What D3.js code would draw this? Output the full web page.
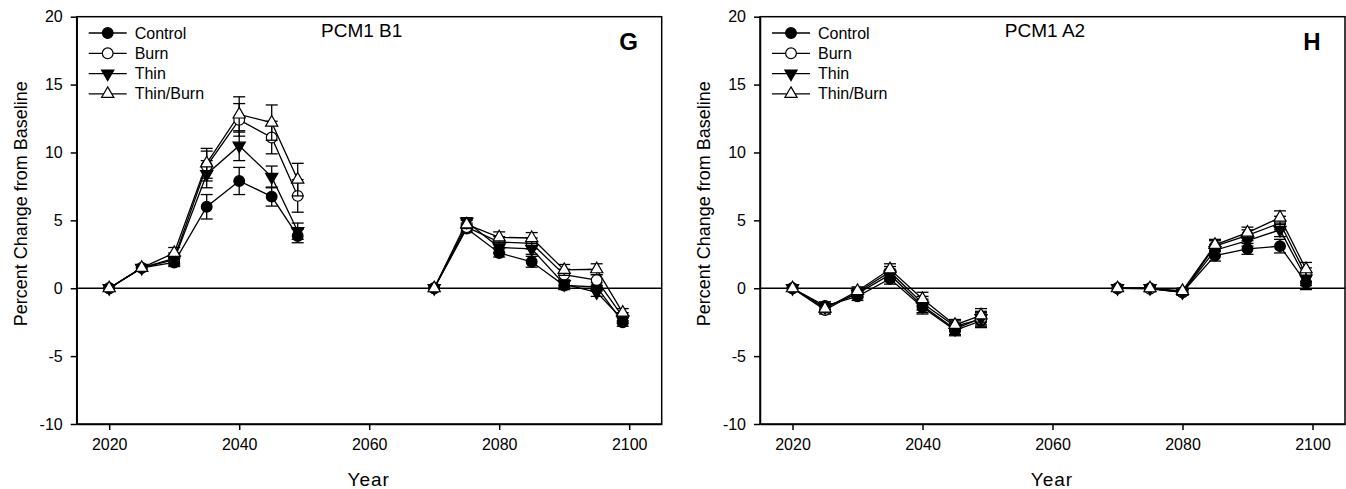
<!DOCTYPE html>
<html>
<head>
<meta charset="utf-8">
<script src="https://cdn.jsdelivr.net/npm/d3@7"></script>
<style>
  body { margin: 0; background: #fff; }
  svg { display: block; font-family: "Liberation Sans", Arial, sans-serif; }
  .axis path, .axis line { stroke: #000; stroke-width: 1.5; }
  .axis text { font-size: 16px; fill: #000; }
  .frame { fill: none; stroke: #000; stroke-width: 1.5; }
  .zeroLine { stroke: #000; stroke-width: 1.3; }
  .seriesLine { fill: none; stroke: #000; stroke-width: 1.3; }
  .errBar { stroke: #000; stroke-width: 1.3; }
</style>
</head>
<body>
<div id="chart"></div>
<script>
/***** Data */

const years = [2020, 2025, 2030, 2035, 2040, 2045, 2049, 2070, 2075, 2080, 2085, 2090, 2095, 2099];
const seriesNames = ['Control', 'Burn', 'Thin', 'Thin/Burn'];
const yTicks = [-10, -5, 0, 5, 10, 15, 20];
const xTicks = [2020, 2040, 2060, 2080, 2100];

// panel G: PCM1 B1
const b1Control  = [0, 1.5, 1.9, 6.0, 7.9, 6.75, 3.85, 0, 4.4, 2.6, 1.95, 0.2, 0.1, -2.5];
const b1Burn     = [0, 1.5, 2.2, 9.0, 12.4, 11.1, 6.8, 0, 4.5, 3.4, 3.3, 1.0, 0.6, -2.1];
const b1Thin     = [0, 1.5, 2.1, 8.4, 10.5, 8.2, 4.2, 0, 4.9, 3.0, 2.9, 0.3, -0.3, -2.3];
const b1ThinBurn = [0, 1.5, 2.6, 9.2, 12.8, 12.2, 8.0, 0, 4.7, 3.75, 3.7, 1.35, 1.4, -1.8];
const b1ControlErr  = [0, 0.2, 0.3, 0.9, 1.0, 0.7, 0.5, 0, 0.3, 0.3, 0.4, 0.3, 0.3, 0.3];
const b1BurnErr     = [0, 0.2, 0.4, 1.1, 1.2, 1.2, 1.2, 0, 0.3, 0.4, 0.4, 0.4, 0.4, 0.3];
const b1ThinErr     = [0, 0.2, 0.4, 1.0, 1.1, 0.8, 0.6, 0, 0.3, 0.4, 0.4, 0.3, 0.3, 0.3];
const b1ThinBurnErr = [0, 0.2, 0.4, 1.1, 1.3, 1.3, 1.2, 0, 0.3, 0.4, 0.4, 0.4, 0.4, 0.3];

// panel H: PCM1 A2
const a2Control  = [0, -1.3, -0.6, 0.7, -1.4, -3.1, -2.4, 0, 0, -0.3, 2.4, 2.9, 3.1, 0.4];
const a2Burn     = [0, -1.6, -0.3, 1.2, -1.1, -2.8, -2.3, 0, -0.05, -0.3, 3.1, 3.9, 4.8, 1.0];
const a2Thin     = [0, -1.4, -0.4, 1.0, -1.3, -3.0, -2.2, 0, 0, -0.3, 2.8, 3.5, 4.3, 0.7];
const a2ThinBurn = [0, -1.5, -0.2, 1.4, -0.8, -2.7, -2.0, 0, 0, -0.2, 3.2, 4.1, 5.2, 1.4];
const a2Err = [0, 0.3, 0.3, 0.4, 0.5, 0.4, 0.5, 0, 0.2, 0.2, 0.4, 0.4, 0.5, 0.5];

/***** Drawing */

const width = 1346;
const height = 489;

const svg = d3.select('#chart').append('svg')
    .attr('width', width)
    .attr('height', height);

// marker style per series
const markerStyles = [
    { shape: d3.symbolCircle, fill: '#000', rotate: 0, size: 90 },
    { shape: d3.symbolCircle, fill: '#fff', rotate: 0, size: 90 },
    { shape: d3.symbolTriangle, fill: '#000', rotate: 180, size: 65 },
    { shape: d3.symbolTriangle, fill: '#fff', rotate: 0, size: 65 }
];

function drawPanel (left, title, letter, series) {
    const top = 16.7;
    const plotWidth = 585;
    const plotHeight = 407.3;

    const g = svg.append('g').attr('transform', `translate(${left},${top})`);

    const x = d3.scaleLinear().domain([2015, 2105]).range([0, plotWidth]);
    const y = d3.scaleLinear().domain([-10, 20]).range([plotHeight, 0]);

    // frame (top and right edges)
    g.append('rect')
        .attr('class', 'frame')
        .attr('width', plotWidth)
        .attr('height', plotHeight);

    // plain hyphen for negatives, as in the original
    g.append('g')
        .attr('class', 'axis')
        .call(d3.axisLeft(y).tickValues(yTicks).tickFormat(d => String(d)).tickSize(6).tickSizeOuter(0).tickPadding(8))
        .call(a => a.attr('font-family', null));

    g.append('g')
        .attr('class', 'axis')
        .attr('transform', `translate(0,${plotHeight})`)
        .call(d3.axisBottom(x).tickValues(xTicks).tickFormat(d => String(d)).tickSize(6).tickSizeOuter(0).tickPadding(9))
        .call(a => a.attr('font-family', null));

    g.append('line')
        .attr('class', 'zeroLine')
        .attr('x1', 0)
        .attr('x2', plotWidth)
        .attr('y1', y(0))
        .attr('y2', y(0));

    // axis titles
    svg.append('text')
        .attr('transform', `translate(${left - 50},${top + 187}) rotate(-90)`)
        .attr('text-anchor', 'middle')
        .attr('font-size', 18)
        .text('Percent Change from Baseline');

    svg.append('text')
        .attr('x', left + 292)
        .attr('y', 486)
        .attr('text-anchor', 'middle')
        .attr('font-size', 19)
        .attr('letter-spacing', 1)
        .text('Year');

    g.append('text')
        .attr('x', 285)
        .attr('y', 20)
        .attr('text-anchor', 'middle')
        .attr('font-size', 19)
        .text(title);

    g.append('text')
        .attr('x', 552)
        .attr('y', 33.3)
        .attr('text-anchor', 'middle')
        .attr('font-size', 24)
        .attr('font-weight', 'bold')
        .text(letter);

    const line = d3.line()
        .x(d => x(d.year))
        .y(d => y(d.value));

    series.forEach((s) => {
        const points = years.map((year, i) => ({ year, value: s.values[i], err: s.errors[i] }));
        // two separate runs of years
        const runs = [points.slice(0, 7), points.slice(7)];
        runs.forEach(run => {
            g.append('path')
                .attr('class', 'seriesLine')
                .attr('d', line(run));
        });
    });

    series.forEach((s, si) => {
        const points = years.map((year, i) => ({ year, value: s.values[i], err: s.errors[i] }));
        const withErr = points.filter(p => p.err > 0.15);

        const bars = g.append('g');
        bars.selectAll('.errV')
            .data(withErr)
            .enter()
            .append('line')
            .attr('class', 'errBar')
            .attr('x1', d => x(d.year))
            .attr('x2', d => x(d.year))
            .attr('y1', d => y(d.value + d.err))
            .attr('y2', d => y(d.value - d.err));
        [1, -1].forEach(sign => {
            bars.selectAll(`.errCap${sign}`)
                .data(withErr)
                .enter()
                .append('line')
                .attr('class', 'errBar')
                .attr('x1', d => x(d.year) - 6)
                .attr('x2', d => x(d.year) + 6)
                .attr('y1', d => y(d.value + sign * d.err))
                .attr('y2', d => y(d.value + sign * d.err));
        });

        const style = markerStyles[si];
        g.append('g').selectAll('path')
            .data(points)
            .enter()
            .append('path')
            .attr('d', d3.symbol().type(style.shape).size(style.size))
            .attr('transform', d => `translate(${x(d.year)},${y(d.value)}) rotate(${style.rotate})`)
            .attr('fill', style.fill)
            .attr('stroke', '#000')
            .attr('stroke-width', 1.2);
    });

    // legend
    const legend = g.append('g').attr('transform', 'translate(12,16.3)');
    seriesNames.forEach((name, i) => {
        const row = legend.append('g').attr('transform', `translate(0,${i * 20.3})`);
        const style = markerStyles[i];
        row.append('line')
            .attr('x1', 0)
            .attr('x2', 38)
            .attr('stroke', '#000')
            .attr('stroke-width', 1.3);
        row.append('path')
            .attr('d', d3.symbol().type(style.shape).size(style.size))
            .attr('transform', `translate(19,0) rotate(${style.rotate})`)
            .attr('fill', style.fill)
            .attr('stroke', '#000')
            .attr('stroke-width', 1.2);
        row.append('text')
            .attr('x', 46)
            .attr('y', 5.5)
            .attr('font-size', 16)
            .text(name);
    });
}

drawPanel(76.7, 'PCM1 B1', 'G', [
    { values: b1Control, errors: b1ControlErr },
    { values: b1Burn, errors: b1BurnErr },
    { values: b1Thin, errors: b1ThinErr },
    { values: b1ThinBurn, errors: b1ThinBurnErr }
]);

drawPanel(760, 'PCM1 A2', 'H', [
    { values: a2Control, errors: a2Err },
    { values: a2Burn, errors: a2Err },
    { values: a2Thin, errors: a2Err },
    { values: a2ThinBurn, errors: a2Err }
]);
</script>
</body>
</html>
